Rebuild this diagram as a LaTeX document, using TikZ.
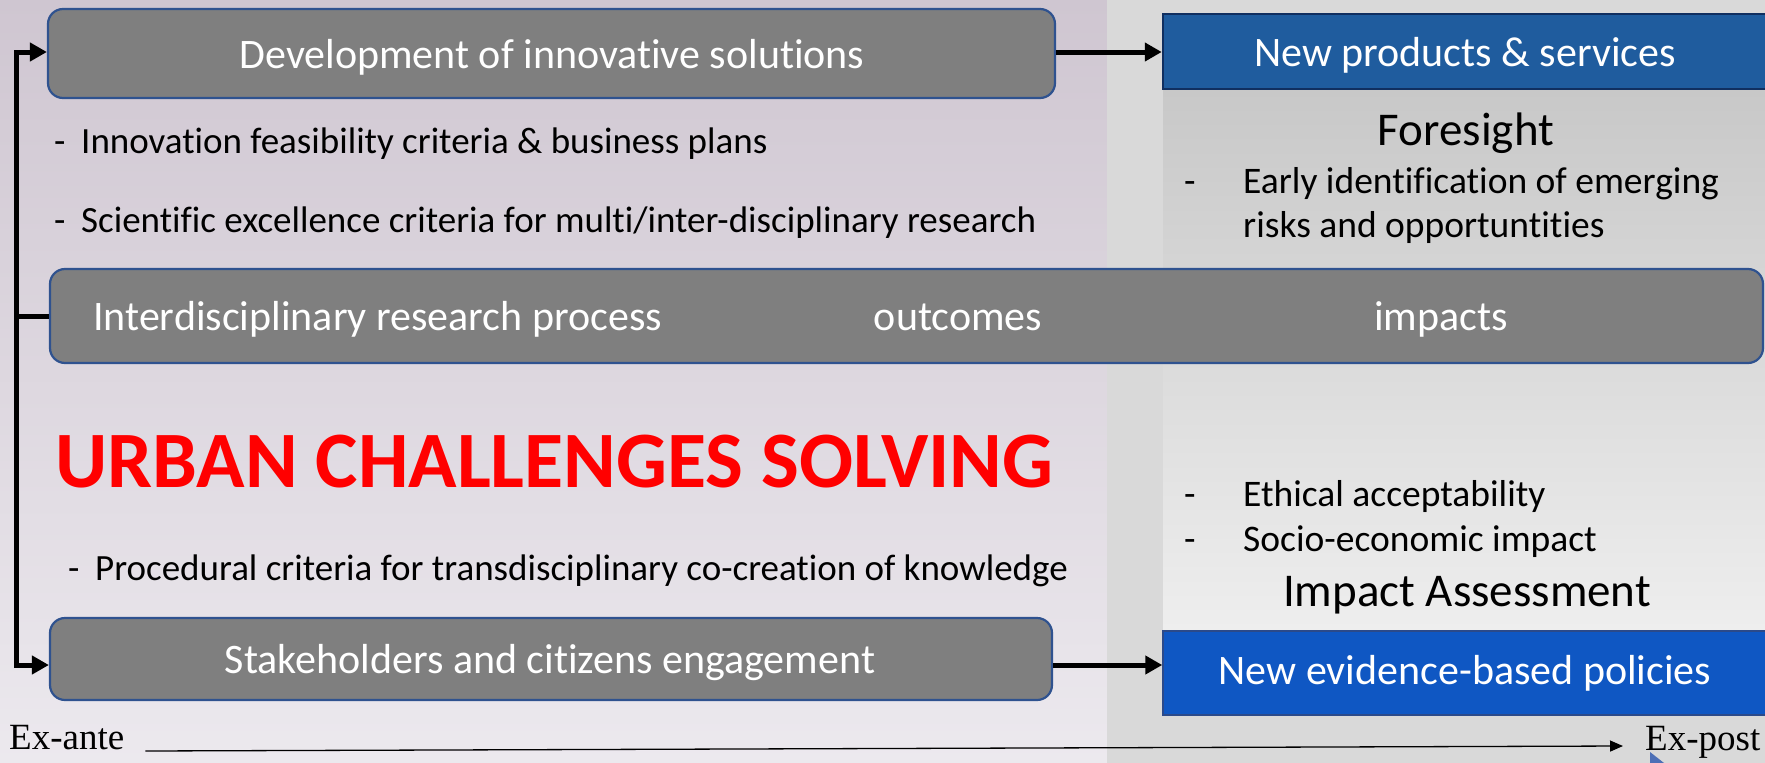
\documentclass[tikz,border=0pt]{standalone}
\usepackage{fontspec}
\setmainfont{Carlito}[Ligatures={NoCommon}]
\newfontfamily\timesf{Liberation Serif}
\usetikzlibrary{arrows.meta,calc}
\definecolor{boxgray}{HTML}{7F7F7F}
\definecolor{boxedge}{HTML}{2F528F}
\definecolor{blueA}{HTML}{1F5C9E}
\definecolor{blueAedge}{HTML}{102F60}
\definecolor{blueB}{HTML}{0F57C3}
\definecolor{blueBedge}{HTML}{2B4A8A}
\definecolor{bgtop}{HTML}{CFC6D1}
\definecolor{bgbot}{HTML}{ECE9EE}
\definecolor{rpanel}{HTML}{D9D9D9}
\definecolor{ipTop}{HTML}{C8C8C8}
\definecolor{ipBot}{HTML}{EEEEEE}
\definecolor{urbanred}{HTML}{FF0000}
\definecolor{tri}{HTML}{4D6FB6}
\begin{document}
\begin{tikzpicture}[x=1pt,y=-1pt,
  graybox/.style={draw=boxedge, line width=2.2pt, fill=boxgray, rounded corners=15pt, inner sep=0pt},
  blueboxA/.style={draw=blueAedge, line width=2.5pt, fill=blueA, inner sep=0pt},
  blueboxB/.style={draw=blueBedge, line width=1.5pt, fill=blueB, inner sep=0pt},
  whitetxt/.style={text=white, font=\fontsize{42}{50}\selectfont, inner sep=0pt, anchor=base},
  bullet/.style={text=black, font=\fontsize{37}{44}\selectfont, inner sep=0pt, anchor=base west},
  rbullet/.style={text=black, font=\fontsize{37.5}{45}\selectfont, inner sep=0pt, anchor=base west},
  heading/.style={text=black, font=\fontsize{47}{56}\selectfont, inner sep=0pt, anchor=base},
  serif/.style={text=black, font=\timesf\fontsize{37}{44}\selectfont, inner sep=0pt, anchor=base west},
  conn/.style={line width=5pt, -{Triangle[length=17pt,width=18pt]}},
  thinconn/.style={line width=1.3pt, -{Triangle[length=13pt,width=11pt]}}
]
\useasboundingbox (0,0) rectangle (1765,763);
% backgrounds
\shade[top color=bgtop, bottom color=bgbot] (0,0) rectangle (1107,763);
\fill[rpanel] (1107,0) rectangle (1765,763);
\shade[top color=ipTop, bottom color=ipBot] (1163,89) rectangle (1765,631);

% boxes
\node[graybox, minimum width=1007pt, minimum height=89pt] (dev) at (551.5,53.5) {};
\node[whitetxt] at (552,68) {Development of innovative solutions};

\node[graybox, minimum width=1713pt, minimum height=94pt] (bar) at (906.5,316) {};
\node[whitetxt, anchor=base west] (idr) at (93,330) {Interdisciplinary research process};
\node[whitetxt] (outc) at (958,330) {outcomes};
\node[whitetxt] (imp) at (1441,330) {impacts};

\node[graybox, minimum width=1002pt, minimum height=82pt] (stk) at (551,659) {};
\node[whitetxt] at (550,673) {Stakeholders and citizens engagement};

\node[blueboxA, minimum width=608pt, minimum height=75pt] (nps) at (1467,51.5) {};
\node[whitetxt] at (1465,66) {New products \& services};

\node[blueboxB, minimum width=608pt, minimum height=84pt] (nep) at (1467,673) {};
\node[whitetxt] at (1465,684) {New evidence-based policies};

% left texts
\node[bullet] (d1) at (54,153) {-};
\node[bullet] (t1) at (81,153) {Innovation feasibility criteria \& business plans};
\node[bullet] (d2) at (54,232) {-};
\node[bullet] (t2) at (81,232) {Scientific excellence criteria for multi/inter-disciplinary research};
\node[text=urbanred, font=\bfseries\fontsize{80}{90}\selectfont, inner sep=0pt, anchor=base west] (urb) at (55,487) {URBAN CHALLENGES SOLVING};
\node[bullet] (d3) at (68,580) {-};
\node[bullet] (t3) at (95,580) {Procedural criteria for transdisciplinary co-creation of knowledge};

% right texts
\node[heading] (fs) at (1466,145) {Foresight};
\node[rbullet] (rd1) at (1184,193) {-};
\node[rbullet] (rt1) at (1243,193) {Early identification of emerging};
\node[rbullet] (rt1b) at (1243,237) {risks and opportuntities};
\node[rbullet] (rd2) at (1184,506) {-};
\node[rbullet] (rt2) at (1243,506) {Ethical acceptability};
\node[rbullet] (rd3) at (1184,551) {-};
\node[rbullet] (rt3) at (1243,551) {Socio-economic impact};
\node[heading] (ia) at (1467,606) {Impact Assessment};

% connectors
\coordinate (lt) at (16,52);
\coordinate (lb) at (16,665);
\draw[conn] (lb) -- (lt) -- (lt -| dev.west);
\draw[conn] (lt) -- (lb) -- (lb -| stk.west);
\draw[line width=5pt] (lt |- bar.west) -- (bar.west);
\draw[conn] (dev.east |- lt) -- (nps.west |- lt);
\draw[conn] (stk.east |- lb) -- (nep.west |- lb);

% time axis
\node[serif] (exa) at (9,749) {Ex-ante};
\node[serif] (exp) at (1645,750) {Ex-post};
\draw[thinconn] ([xshift=21pt,yshift=-2pt]exa.base east) -- ([xshift=-22pt,yshift=4pt]exp.base west);
\fill[tri] (1650,752) -- (1650,763) -- (1664,763) -- cycle;
\end{tikzpicture}
\end{document}
